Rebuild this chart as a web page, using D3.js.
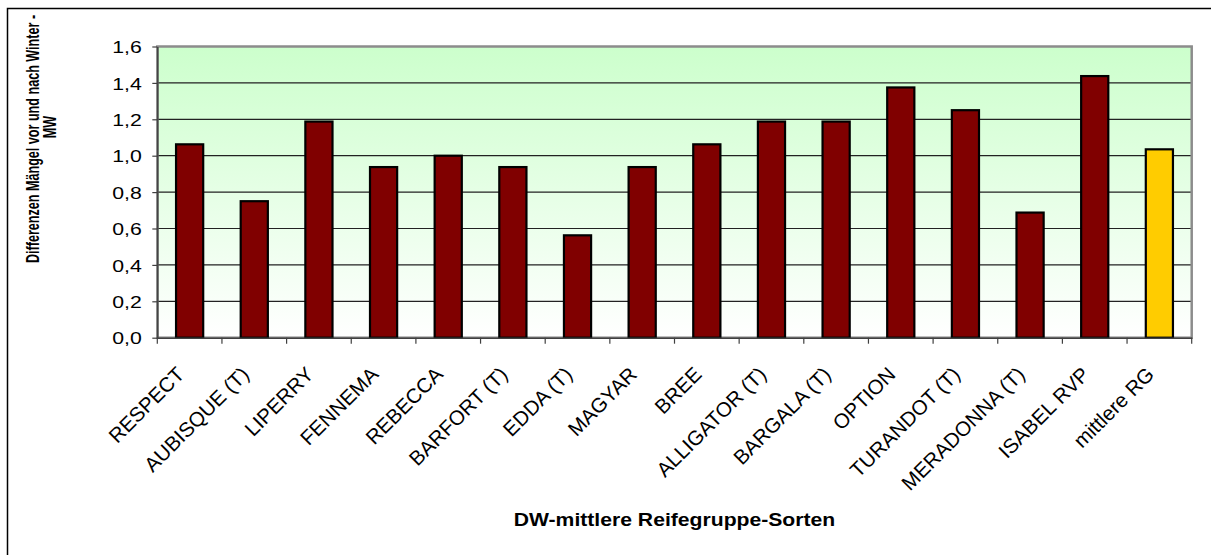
<!DOCTYPE html>
<html>
<head>
<meta charset="utf-8">
<script src="https://cdn.jsdelivr.net/npm/d3@7"></script>
<style>
  body { margin: 0; background: #fff; }
  text { font-family: "Liberation Sans", Arial, sans-serif; }
</style>
</head>
<body>
<div id="chart"></div>
<script>
// Sorten (x categories)
const categories = ["RESPECT", "AUBISQUE (T)", "LIPERRY", "FENNEMA", "REBECCA", "BARFORT (T)",
    "EDDA (T)", "MAGYAR", "BREE", "ALLIGATOR (T)", "BARGALA (T)", "OPTION", "TURANDOT (T)",
    "MERADONNA (T)", "ISABEL RVP", "mittlere RG"];
// Differenzen Maengel vor und nach Winter - MW
const values = [1.0625, 0.75, 1.1875, 0.9375, 1.0, 0.9375, 0.5625, 0.9375, 1.0625, 1.1875,
    1.1875, 1.375, 1.25, 0.6875, 1.4375, 1.035];
const yTicks = [0, 0.2, 0.4, 0.6, 0.8, 1.0, 1.2, 1.4, 1.6];
const yTitleLines = ["Differenzen Mängel vor und nach Winter -", "MW"];
const xTitle = "DW-mittlere Reifegruppe-Sorten";

const W = 1211, H = 555;
const plot = { left: 157.3, right: 1191.7, top: 46.5, bottom: 337.7 };
const stretch = 1.25; // the source picture is stretched sideways

const svg = d3.select("#chart").append("svg")
    .attr("width", W)
    .attr("height", H);

// outer chart frame (only top / left visible in the picture)
svg.append("rect")
    .attr("x", 7.5).attr("y", 8.5)
    .attr("width", W + 50).attr("height", H + 50)
    .attr("fill", "#fff")
    .attr("stroke", "#000")
    .attr("stroke-width", 1.5);

const x = d3.scaleBand()
    .domain(categories)
    .range([plot.left, plot.right])
    .paddingInner(0.58)
    .paddingOuter(0.29);

const y = d3.scaleLinear()
    .domain([0, 1.6])
    .range([plot.bottom, plot.top]);

// plot background gradient
const grad = svg.append("defs").append("linearGradient")
    .attr("id", "bg")
    .attr("x1", 0).attr("y1", 0).attr("x2", 0).attr("y2", 1);
grad.append("stop").attr("offset", "0%").attr("stop-color", "#ccffcc");
grad.append("stop").attr("offset", "100%").attr("stop-color", "#ffffff");

svg.append("rect")
    .attr("x", plot.left).attr("y", plot.top)
    .attr("width", plot.right - plot.left)
    .attr("height", plot.bottom - plot.top)
    .attr("fill", "url(#bg)");

// gridlines
svg.append("g")
    .selectAll("line")
    .data(yTicks.slice(1, -1))
    .enter().append("line")
    .attr("x1", plot.left).attr("x2", plot.right)
    .attr("y1", d => y(d)).attr("y2", d => y(d))
    .attr("stroke", "#222")
    .attr("stroke-width", 1.2);

// plot border
svg.append("rect")
    .attr("x", plot.left).attr("y", plot.top)
    .attr("width", plot.right - plot.left)
    .attr("height", plot.bottom - plot.top)
    .attr("fill", "none")
    .attr("stroke", "#8c8c8c")
    .attr("stroke-width", 2.5);

// bars
svg.selectAll(".bar")
    .data(values)
    .enter().append("rect")
    .attr("class", "bar")
    .attr("x", (d, i) => x(categories[i]))
    .attr("y", d => y(d))
    .attr("width", x.bandwidth())
    .attr("height", d => y(0) - y(d))
    .attr("fill", (d, i) => i === categories.length - 1 ? "#ffcc00" : "#800000")
    .attr("stroke", "#000")
    .attr("stroke-width", 2.2);

// y axis
const yAxis = d3.axisLeft(y)
    .tickValues(yTicks)
    .tickSize(5)
    .tickSizeOuter(0)
    .tickFormat(d => d3.format(".1f")(d).replace(".", ","));

const gy = svg.append("g")
    .attr("transform", "translate(" + plot.left + ",0)")
    .call(yAxis);
gy.select(".domain").attr("stroke", "#404040").attr("stroke-width", 1.5);
gy.selectAll(".tick line").attr("stroke", "#404040").attr("stroke-width", 1.2);
gy.selectAll(".tick text")
    .attr("x", -15.5 / stretch)
    .attr("dy", "0.36em")
    .attr("transform", "scale(" + stretch + ",1)")
    .style("font-size", "17px")
    .attr("fill", "#000");

// x axis: labels at band centres, tick marks at band edges
const xAxis = d3.axisBottom(x).tickSize(0).tickSizeOuter(0);
const gx = svg.append("g")
    .attr("transform", "translate(0," + plot.bottom + ")")
    .call(xAxis);
gx.select(".domain").attr("stroke", "#404040").attr("stroke-width", 1.5);
gx.selectAll(".tick text")
    .attr("x", 0).attr("y", 0).attr("dy", 0)
    .attr("transform", "translate(-4,38) rotate(-45)")
    .style("text-anchor", "end")
    .style("font-size", "20.5px")
    .attr("fill", "#000");

const edges = categories.map(c => x(c) - (x.step() - x.bandwidth()) / 2);
edges.push(plot.right);
gx.selectAll(".edge")
    .data(edges)
    .enter().append("line")
    .attr("class", "edge")
    .attr("x1", d => d).attr("x2", d => d)
    .attr("y1", 0).attr("y2", 6)
    .attr("stroke", "#404040")
    .attr("stroke-width", 1.2);

// axis titles
const ySx = 1.4;
const yTitle = svg.append("text")
    .attr("transform", "scale(" + ySx + ",1) rotate(-90)")
    .attr("text-anchor", "middle")
    .style("font-size", "12.6px")
    .style("font-weight", "bold");
yTitle.append("tspan").attr("x", -139).attr("y", 39 / ySx).text(yTitleLines[0]);
yTitle.append("tspan").attr("x", -127).attr("y", 56 / ySx).text(yTitleLines[1]);

svg.append("text")
    .attr("transform", "translate(" + (plot.left + plot.right) / 2 + ",526) scale(1.15,1)")
    .attr("text-anchor", "middle")
    .style("font-size", "18.4px")
    .style("font-weight", "bold")
    .text(xTitle);
</script>
</body>
</html>
